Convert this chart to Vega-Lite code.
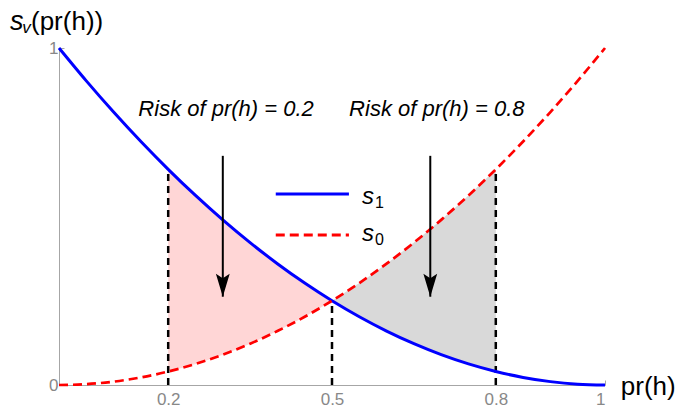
{
  "$schema": "https://vega.github.io/schema/vega-lite/v6.json",
  "width": 546,
  "height": 337,
  "autosize": {"type": "none"},
  "padding": {"left": 59, "top": 48, "right": 70, "bottom": 24},
  "background": "white",
  "config": {
    "view": {"stroke": null},
    "font": "Liberation Sans",
    "axis": {"title": null, "grid": false, "format": "~g", "domainColor": "#a6a6a6", "tickColor": "#a6a6a6",
      "tickSize": -5, "labelColor": "#888888", "labelFontSize": 17, "labelFont": "Liberation Sans"}
  },
  "datasets": {
    "curve": [
      {"x": 0, "s1": 1, "s0": 0},
      {"x": 0.05, "s1": 0.9025, "s0": 0.0025},
      {"x": 0.1, "s1": 0.81, "s0": 0.01},
      {"x": 0.15, "s1": 0.7225, "s0": 0.0225},
      {"x": 0.2, "s1": 0.64, "s0": 0.04},
      {"x": 0.25, "s1": 0.5625, "s0": 0.0625},
      {"x": 0.3, "s1": 0.49, "s0": 0.09},
      {"x": 0.35, "s1": 0.4225, "s0": 0.1225},
      {"x": 0.4, "s1": 0.36, "s0": 0.16},
      {"x": 0.45, "s1": 0.3025, "s0": 0.2025},
      {"x": 0.5, "s1": 0.25, "s0": 0.25},
      {"x": 0.55, "s1": 0.2025, "s0": 0.3025},
      {"x": 0.6, "s1": 0.16, "s0": 0.36},
      {"x": 0.65, "s1": 0.1225, "s0": 0.4225},
      {"x": 0.7, "s1": 0.09, "s0": 0.49},
      {"x": 0.75, "s1": 0.0625, "s0": 0.5625},
      {"x": 0.8, "s1": 0.04, "s0": 0.64},
      {"x": 0.85, "s1": 0.0225, "s0": 0.7225},
      {"x": 0.9, "s1": 0.01, "s0": 0.81},
      {"x": 0.95, "s1": 0.0025, "s0": 0.9025},
      {"x": 1, "s1": 0, "s0": 1}
    ],
    "guides": [
      {"x": 0.2, "bottom": 0, "top": 0.64},
      {"x": 0.5, "bottom": 0, "top": 0.25},
      {"x": 0.8, "bottom": 0, "top": 0.64}
    ],
    "arrows": [
      {"x": 0.3, "top": 0.68, "tip": 0.262},
      {"x": 0.68, "top": 0.68, "tip": 0.262}
    ],
    "labels": [
      {"x": 0.306, "y": 0.798, "text": "Risk of pr(h) = 0.2"},
      {"x": 0.692, "y": 0.798, "text": "Risk of pr(h) = 0.8"}
    ],
    "legend": [
      {"series": "s1", "x1": 0.397, "x2": 0.531, "y": 0.567, "tx": 0.555, "ty": 0.537, "sub": "1"},
      {"series": "s0", "x1": 0.397, "x2": 0.531, "y": 0.445, "tx": 0.555, "ty": 0.427, "sub": "0"}
    ]
  },
  "layer": [
    {
      "data": {"name": "curve"},
      "transform": [{"filter": "datum.x >= 0.2 && datum.x <= 0.5"}],
      "mark": {"type": "area", "color": "#FFD6D6", "interpolate": "monotone"},
      "encoding": {
        "x": {"field": "x", "type": "quantitative", "title": null, "scale": {"domain": [0, 1], "nice": false, "zero": false},
          "axis": {"values": [0.2, 0.5, 0.8, 1], "labelFontSize": 17, "labelPadding": 11, "tickSize": -5, "labelColor": "#888888"}},
        "y": {"field": "s0", "type": "quantitative", "title": null, "scale": {"domain": [0, 1], "nice": false},
          "axis": {"values": [0, 1], "labelFontSize": 17, "labelPadding": 6, "tickSize": -5, "labelColor": "#888888"}},
        "y2": {"field": "s1"}
      }
    },
    {
      "data": {"name": "curve"},
      "transform": [{"filter": "datum.x >= 0.5 && datum.x <= 0.8"}],
      "mark": {"type": "area", "color": "#D9D9D9", "interpolate": "monotone"},
      "encoding": {
        "x": {"field": "x", "type": "quantitative", "title": null},
        "y": {"field": "s1", "type": "quantitative", "title": null},
        "y2": {"field": "s0"}
      }
    },
    {
      "data": {"name": "guides"},
      "mark": {"type": "rule", "color": "black", "strokeWidth": 2.5, "strokeDash": [7, 5]},
      "encoding": {
        "x": {"field": "x", "type": "quantitative", "title": null},
        "y": {"field": "bottom", "type": "quantitative", "title": null},
        "y2": {"field": "top"}
      }
    },
    {
      "data": {"name": "curve"},
      "mark": {"type": "line", "color": "#0000FF", "strokeWidth": 3, "interpolate": "monotone"},
      "encoding": {
        "x": {"field": "x", "type": "quantitative", "title": null},
        "y": {"field": "s1", "type": "quantitative", "title": null}
      }
    },
    {
      "data": {"name": "curve"},
      "mark": {"type": "line", "color": "#FF0000", "strokeWidth": 2.7, "strokeDash": [9, 5], "interpolate": "monotone"},
      "encoding": {
        "x": {"field": "x", "type": "quantitative", "title": null},
        "y": {"field": "s0", "type": "quantitative", "title": null}
      }
    },
    {
      "data": {"name": "arrows"},
      "mark": {"type": "rule", "color": "black", "strokeWidth": 2},
      "encoding": {
        "x": {"field": "x", "type": "quantitative", "title": null},
        "y": {"field": "top", "type": "quantitative", "title": null},
        "y2": {"field": "tip"}
      }
    },
    {
      "data": {"name": "arrows"},
      "mark": {"type": "point", "filled": true, "color": "black", "opacity": 1, "size": 529,
        "shape": "M0,0 L-0.6,-2 L0,-1.6 L0.6,-2 Z"},
      "encoding": {
        "x": {"field": "x", "type": "quantitative", "title": null},
        "y": {"field": "tip", "type": "quantitative", "title": null}
      }
    },
    {
      "data": {"name": "labels"},
      "mark": {"type": "text", "fontStyle": "italic", "fontSize": 22, "align": "center", "baseline": "alphabetic", "color": "black"},
      "encoding": {
        "x": {"field": "x", "type": "quantitative", "title": null},
        "y": {"field": "y", "type": "quantitative", "title": null},
        "text": {"field": "text"}
      }
    },
    {
      "data": {"name": "legend"},
      "transform": [{"filter": "datum.series == 's1'"}],
      "mark": {"type": "rule", "strokeWidth": 3, "color": "#0000FF"},
      "encoding": {
        "x": {"field": "x1", "type": "quantitative", "title": null},
        "x2": {"field": "x2"},
        "y": {"field": "y", "type": "quantitative", "title": null}
      }
    },
    {
      "data": {"name": "legend"},
      "transform": [{"filter": "datum.series == 's0'"}],
      "mark": {"type": "rule", "strokeWidth": 3, "color": "#FF0000", "strokeDash": [9, 5]},
      "encoding": {
        "x": {"field": "x1", "type": "quantitative", "title": null},
        "x2": {"field": "x2"},
        "y": {"field": "y", "type": "quantitative", "title": null}
      }
    },
    {
      "data": {"name": "legend"},
      "mark": {"type": "text", "fontStyle": "italic", "fontSize": 24, "align": "left", "baseline": "alphabetic", "color": "black"},
      "encoding": {
        "x": {"field": "tx", "type": "quantitative", "title": null},
        "y": {"field": "ty", "type": "quantitative", "title": null},
        "text": {"value": "s"}
      }
    },
    {
      "data": {"name": "legend"},
      "mark": {"type": "text", "fontSize": 16, "align": "left", "baseline": "alphabetic", "color": "black", "dx": 13, "dy": 4},
      "encoding": {
        "x": {"field": "tx", "type": "quantitative", "title": null},
        "y": {"field": "ty", "type": "quantitative", "title": null},
        "text": {"field": "sub"}
      }
    },
    {
      "data": {"values": [{"x": -0.0897, "y": 1.053, "t": "s"}]},
      "mark": {"type": "text", "fontStyle": "italic", "fontSize": 27, "align": "left", "baseline": "alphabetic", "color": "black"},
      "encoding": {
        "x": {"field": "x", "type": "quantitative", "title": null},
        "y": {"field": "y", "type": "quantitative", "title": null},
        "text": {"field": "t"}
      }
    },
    {
      "data": {"values": [{"x": -0.0675, "y": 1.0445, "t": "v"}]},
      "mark": {"type": "text", "fontStyle": "italic", "fontSize": 17, "align": "left", "baseline": "alphabetic", "color": "black"},
      "encoding": {
        "x": {"field": "x", "type": "quantitative", "title": null},
        "y": {"field": "y", "type": "quantitative", "title": null},
        "text": {"field": "t"}
      }
    },
    {
      "data": {"values": [{"x": -0.0513, "y": 1.053, "t": "(pr(h))"}, {"x": 1.029, "y": -0.0297, "t": "pr(h)"}]},
      "mark": {"type": "text", "fontSize": 26, "align": "left", "baseline": "alphabetic", "color": "black"},
      "encoding": {
        "x": {"field": "x", "type": "quantitative", "title": null},
        "y": {"field": "y", "type": "quantitative", "title": null},
        "text": {"field": "t"}
      }
    }
  ]
}
